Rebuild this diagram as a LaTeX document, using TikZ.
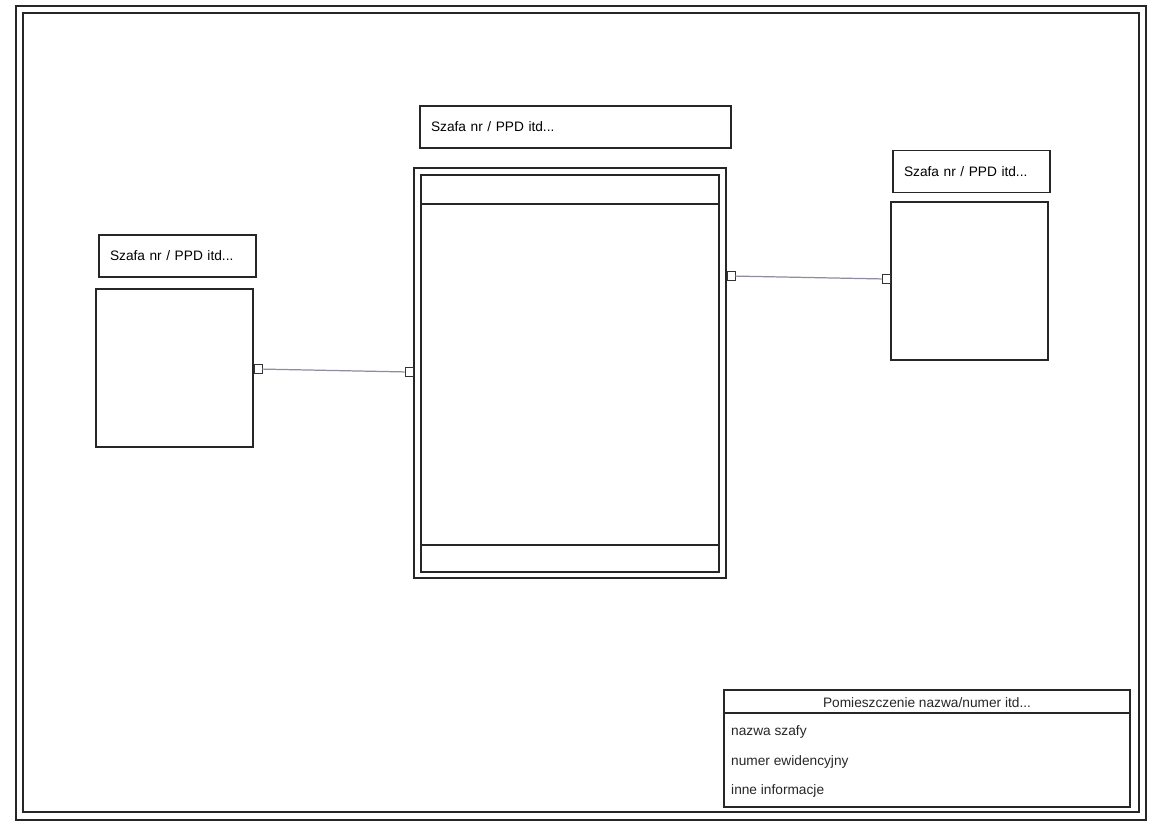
\documentclass[tikz,border=0pt]{standalone}
\usepackage{fontspec}
\setmainfont{Liberation Sans}
\usetikzlibrary{positioning, calc}

\begin{document}
\begin{tikzpicture}[
    x=0.02cm, y=-0.02cm,
    frame/.style={draw=black!85, line width=0.7pt},
    titlebox/.style={rectangle, draw=black!85, line width=0.7pt,
                     text width=#1, align=left, inner xsep=0.22cm,
                     minimum height=0.84cm, font=\fontsize{7.8}{9}\selectfont},
    titlebox/.default=2.7cm,
    rackbox/.style={rectangle, draw=black!85, line width=0.7pt,
                    minimum width=3.14cm, minimum height=3.16cm},
    port/.style={rectangle, draw=black!80, fill=white, line width=0.5pt,
                 minimum width=0.16cm, minimum height=0.18cm, inner sep=0pt},
    link/.style={draw=blue!20!black!45, line width=0.7pt},
    rowtxt/.style={anchor=west, font=\fontsize{7.8}{9}\selectfont, text=black!85},
]

\useasboundingbox (0,0) rectangle (1152,823);

% --- page frame ---
\draw [frame] (16,6) rectangle (1146,820);
\draw [frame] (23,13) rectangle (1139,812);

% --- left rack ---
\node (lefttitle) [titlebox] at (177.5,256) {Szafa nr / PPD itd...};
\node (leftbox) [rackbox] at (174.5,368) {};

% --- center rack ---
\node (midtitle) [titlebox=5.78cm] at (575.5,127) {Szafa nr / PPD itd...};
\node (midouter) [rectangle, draw=black!85, line width=0.7pt,
    minimum width=6.24cm, minimum height=8.2cm] at (570,373) {};
\node (midinner) [rectangle, draw=black!85, line width=0.7pt,
    minimum width=5.96cm, minimum height=7.94cm] at (570,373.5) {};
\draw [frame] (midinner.west |- 0,204) -- (midinner.east |- 0,204);
\draw [frame] (midinner.west |- 0,545) -- (midinner.east |- 0,545);

% --- right rack ---
\node (righttitle) [titlebox] at (971.5,171.5) {Szafa nr / PPD itd...};
\node (rightbox) [rackbox] at (969.5,281) {};

% --- connectors ---
\node (lport) [port, anchor=west] at (leftbox.east |- 0,369) {};
\node (mlport) [port, anchor=east] at (midouter.west |- 0,372) {};
\node (mrport) [port, anchor=west] at (midouter.east |- 0,276) {};
\node (rport) [port, anchor=east] at (rightbox.west |- 0,279) {};
\draw [link] (lport) -- (mlport);
\draw [link] (mrport) -- (rport);

% --- legend ---
\node (legend) [rectangle, draw=black!85, line width=0.7pt,
    minimum width=8.12cm, minimum height=2.34cm] at (927,748.5) {};
\draw [frame] (legend.west |- 0,713) -- (legend.east |- 0,713);
\node (legendhead) [font=\fontsize{7.8}{9}\selectfont, text=black!85]
    at (927,703) {Pomieszczenie nazwa/numer itd...};
\node (row1) [rowtxt] at (725,732) {nazwa szafy};
\node (row2) [rowtxt] at (725,762) {numer ewidencyjny};
\node (row3) [rowtxt] at (725,791) {inne informacje};

\end{tikzpicture}
\end{document}
